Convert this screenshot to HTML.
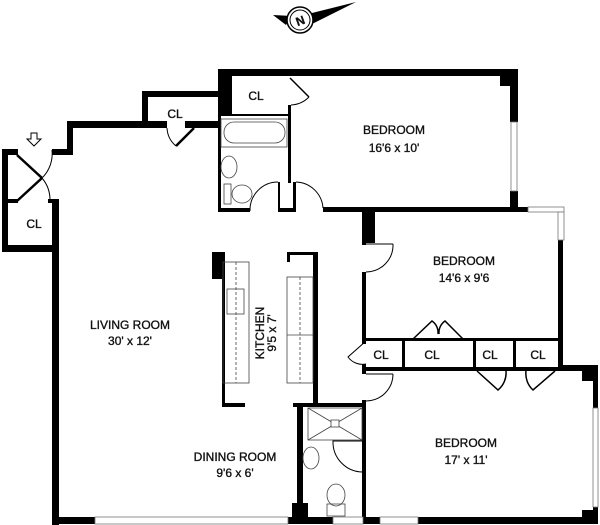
<!DOCTYPE html>
<html><head><meta charset="utf-8"><style>
html,body{margin:0;padding:0;background:#fff;}
svg{display:block;}
text{font-family:"Liberation Sans",sans-serif;font-size:12px;fill:#111;stroke:#111;stroke-width:0.35;text-anchor:middle;}
</style></head><body>
<svg width="600" height="525" viewBox="0 0 600 525" xmlns="http://www.w3.org/2000/svg">
<g fill="#000" stroke="none">
<rect x="2" y="149" width="6" height="103"/>
<rect x="2" y="149" width="16" height="6"/>
<rect x="2" y="245" width="57" height="7"/>
<rect x="8" y="199" width="10" height="4"/>
<rect x="48" y="199" width="11" height="4"/>
<rect x="52" y="199" width="7" height="326"/>
<rect x="52" y="149" width="21" height="6"/>
<rect x="67" y="121" width="6" height="34"/>
<rect x="67" y="121" width="100" height="7"/>
<rect x="185" y="121" width="35" height="7"/>
<rect x="142" y="91" width="6" height="37"/>
<rect x="142" y="91" width="78" height="6"/>
<rect x="218" y="69" width="14" height="47"/>
<rect x="218" y="69" width="300" height="7"/>
<rect x="510" y="69" width="8" height="53"/>
<rect x="500" y="76" width="10" height="10"/>
<rect x="510" y="191" width="8" height="21"/>
<rect x="232" y="114" width="58" height="2"/>
<rect x="288" y="105" width="3" height="78"/>
<rect x="218" y="116" width="3" height="96"/>
<rect x="278" y="182" width="2" height="30"/>
<rect x="218" y="208" width="32" height="4"/>
<rect x="278" y="208" width="18" height="4"/>
<rect x="293" y="182" width="3" height="30"/>
<rect x="323" y="207" width="205" height="5"/>
<rect x="362" y="212" width="13" height="31"/>
<rect x="362" y="243" width="4" height="2"/>
<rect x="362" y="272" width="4" height="70"/>
<rect x="558" y="240" width="5" height="131"/>
<rect x="558" y="365" width="40" height="6"/>
<rect x="582" y="371" width="12" height="10"/>
<rect x="593" y="371" width="5" height="37"/>
<rect x="593" y="507" width="5" height="17"/>
<rect x="362" y="338" width="200" height="3"/>
<rect x="362" y="367" width="200" height="4"/>
<rect x="362" y="341" width="4" height="3"/>
<rect x="362" y="364" width="4" height="10"/>
<rect x="402" y="340" width="3" height="28"/>
<rect x="473" y="340" width="3" height="28"/>
<rect x="513" y="340" width="3" height="28"/>
<rect x="362" y="400" width="4" height="124"/>
<rect x="212" y="252" width="10" height="27"/>
<rect x="222" y="252" width="3" height="155"/>
<rect x="222" y="403" width="23" height="4"/>
<rect x="313" y="252" width="5" height="151"/>
<rect x="287" y="252" width="31" height="3"/>
<rect x="287" y="252" width="3" height="10"/>
<rect x="293" y="403" width="72" height="4"/>
<rect x="297" y="403" width="6" height="115"/>
<rect x="292" y="503" width="16" height="21"/>
<rect x="52" y="517" width="43" height="7"/>
<rect x="288" y="517" width="45" height="7"/>
<rect x="363" y="517" width="17" height="7"/>
<rect x="418" y="517" width="180" height="7"/>
<rect x="582" y="510" width="12" height="14"/>
</g>
<g fill="#fff" stroke="#777" stroke-width="0.8">
<rect x="95" y="517" width="193" height="7"/>
<rect x="333" y="517" width="30" height="7"/>
<rect x="380" y="517" width="38" height="7"/>
<rect x="593" y="408" width="5" height="99"/>
<rect x="511" y="122" width="6" height="69"/>
<rect x="528" y="207" width="36" height="5"/>
<rect x="558" y="212" width="6" height="28"/>
</g>
<g fill="none" stroke="#000" stroke-width="1">
<line x1="17" y1="155" x2="42" y2="178" stroke-width="2.5"/>
<line x1="17" y1="201" x2="42" y2="178" stroke-width="2.5"/>
<path d="M52 150 A34 34 0 0 1 42 178 A34 34 0 0 1 50 200"/>
<line x1="176" y1="146" x2="194" y2="128" stroke-width="2.5"/>
<path d="M167 128 A25 25 0 0 0 176 146"/>
<line x1="290" y1="78" x2="309" y2="97" stroke-width="1.5"/>
<path d="M309 97 A27 27 0 0 1 291 105"/>
<path d="M250 211 A28 28 0 0 1 278 182"/>
<path d="M296 182 A28 28 0 0 1 323 208"/>
<line x1="366" y1="244" x2="393" y2="244"/>
<path d="M393 244 A27 27 0 0 1 366 272"/>
<path d="M366 341 L348 357 A18 18 0 0 0 366 364"/>
<line x1="366" y1="374" x2="393" y2="374"/>
<path d="M393 374 A27 27 0 0 1 366 401"/>
<path d="M413 339 L432 321 A14 14 0 0 1 438 334" stroke-width="1.5"/>
<path d="M463 339 L445 321 A14 14 0 0 0 439 334" stroke-width="1.5"/>
<path d="M477 371 L498 390 A22 22 0 0 0 506 371" stroke-width="1.5"/>
<path d="M555 371 L533 390 A22 22 0 0 1 526 371" stroke-width="1.5"/>
<path d="M363 441 L333 441 A30 30 0 0 0 363 472"/>
</g>
<g fill="none" stroke="#444" stroke-width="0.8">
<rect x="221" y="119" width="66" height="28"/>
<rect x="224" y="122" width="61" height="21" rx="10"/>
<ellipse cx="229" cy="167" rx="8" ry="11"/>
<ellipse cx="242" cy="194" rx="10" ry="9"/>
<rect x="224" y="184" width="7" height="20"/>
<rect x="223" y="262" width="26" height="121"/>
<line x1="236" y1="262" x2="236" y2="383" stroke-dasharray="3,2"/>
<rect x="227" y="289" width="17" height="25"/>
<rect x="287" y="277" width="26" height="106"/>
<line x1="287" y1="335" x2="313" y2="335"/>
<line x1="300" y1="277" x2="300" y2="383" stroke-dasharray="3,2"/>
<rect x="308" y="408" width="54" height="32"/>
<line x1="308" y1="408" x2="362" y2="440"/>
<line x1="362" y1="408" x2="308" y2="440"/>
<rect x="331" y="420" width="8" height="7" fill="#fff"/>
<ellipse cx="311" cy="458" rx="8" ry="11"/>
<ellipse cx="336" cy="495" rx="9" ry="11"/>
<rect x="327" y="504" width="18" height="12"/>
</g>
<path d="M31 133 h6 v6 h4 l-7 7 l-7 -7 h4 z" fill="#fff" stroke="#000" stroke-width="1"/>
<g>
<path d="M273 15 L292 16 L286 25 Z" fill="#000"/>
<path d="M308 14 L356 2 L312 24 Z" fill="#000"/>
<circle cx="300" cy="20" r="13" fill="#fff" stroke="#000" stroke-width="1.5"/>
<circle cx="300" cy="20" r="10" fill="#fff" stroke="#000" stroke-width="1"/>
<text x="300" y="25" font-size="13" font-weight="bold" transform="rotate(-20 300 20)">N</text>
</g>
<text x="34" y="228">CL</text>
<text x="175" y="118">CL</text>
<text x="256" y="100">CL</text>
<text x="381" y="359">CL</text>
<text x="432" y="359">CL</text>
<text x="490" y="359">CL</text>
<text x="538" y="359">CL</text>
<text x="394" y="134">BEDROOM</text>
<text x="394" y="152">16'6 x 10'</text>
<text x="464" y="265">BEDROOM</text>
<text x="464" y="282">14'6 x 9'6</text>
<text x="466" y="447">BEDROOM</text>
<text x="466" y="464">17' x 11'</text>
<text x="130" y="329">LIVING ROOM</text>
<text x="130" y="345">30' x 12'</text>
<text x="235" y="461">DINING ROOM</text>
<text x="235" y="477">9'6 x 6'</text>
<text x="0" y="0" transform="translate(264 333) rotate(-90)">KITCHEN</text>
<text x="0" y="0" transform="translate(276 333) rotate(-90)">9'5 x 7'</text>
</svg>
</body></html>
